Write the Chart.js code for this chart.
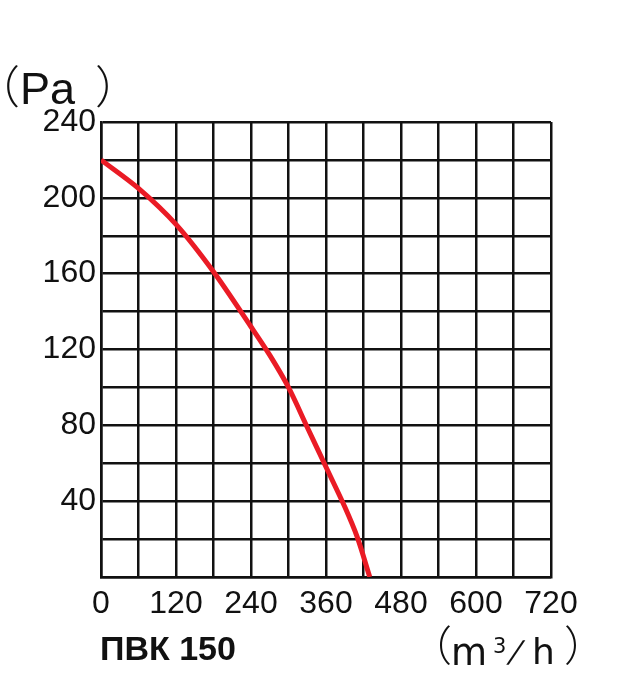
<!DOCTYPE html>
<html lang="ru">
<head>
<meta charset="UTF-8">
<title>ПВК 150</title>
<script src="https://cdn.jsdelivr.net/npm/chart.js"></script>
<style>
  body { margin: 0; background: #fff; }
  #wrap { position: relative; width: 640px; height: 683px; }
  canvas { position: absolute; left: 0; top: 0; }
  .lbl { position: absolute; line-height: 1; white-space: nowrap; color: #111;
         font-family: "Liberation Sans", Arial, sans-serif; }
  .cjk { font-family: "Noto Sans CJK SC", sans-serif; font-weight: 300; }
  .dv { font-family: "DejaVu Sans", sans-serif; }
</style>
</head>
<body>
<div id="wrap">
  <canvas id="fan" width="640" height="683"></canvas>
  <!-- единицы давления -->
  <div class="lbl" style="left:-25px; top:62px; font-size:45px;"><span class="cjk">（</span>Pa<span class="cjk" style="margin-left:20px">）</span></div>
  <!-- модель -->
  <div class="lbl" style="left:100px; top:631px; font-size:34px; font-weight:bold;">ПВК 150</div>
  <!-- единицы расхода -->
  <div class="lbl cjk" style="left:410px; top:622px; font-size:42px;">（</div>
  <div class="lbl dv" style="left:451px; top:634px; font-size:37px;">m</div>
  <div class="lbl dv" style="left:493px; top:636px; font-size:21px;">3</div>
  <div class="lbl dv" style="left:511px; top:637px; font-size:30px; transform:skewX(-20deg);">/</div>
  <div class="lbl dv" style="left:532px; top:634px; font-size:36px;">h</div>
  <div class="lbl cjk" style="left:564px; top:622px; font-size:42px;">）</div>
</div>
<script>
// расход, м3/ч
const flow = [0, 60, 120, 180, 240, 270, 300, 330, 360, 390, 410, 430];
// давление, Па
const pressure = [220, 205, 186, 161, 132, 117, 100, 79, 58, 37, 21, 0];

const xTicks = [0, 120, 240, 360, 480, 600, 720];
const yTicks = [40, 80, 120, 160, 200, 240];

const points = flow.map((q, i) => ({ x: q, y: pressure[i] }));

new Chart(document.getElementById("fan"), {
  type: "line",
  data: {
    datasets: [{
      data: points,
      borderColor: "#ea1b25",
      borderWidth: 5,
      pointRadius: 0,
      tension: 0.3,
      fill: false
    }]
  },
  options: {
    responsive: false,
    animation: false,
    layout: { padding: { top: 122, right: 89, left: 0, bottom: 0 } },
    plugins: { legend: { display: false }, tooltip: { enabled: false } },
    scales: {
      x: {
        type: "linear",
        min: 0, max: 720,
        border: { color: "#111", width: 2.5 },
        grid: { color: "#111", lineWidth: 2.5, drawTicks: false },
        ticks: {
          stepSize: 60,
          autoSkip: false,
          maxRotation: 0,
          padding: 8,
          color: "#111",
          font: { family: "Liberation Sans", size: 32 },
          callback: v => xTicks.includes(v) ? String(v) : ""
        },
        afterFit: s => { s.height = 106; }
      },
      y: {
        min: 0, max: 240,
        border: { color: "#111", width: 2.5 },
        grid: { color: "#111", lineWidth: 2.5, drawTicks: false },
        ticks: {
          stepSize: 20,
          autoSkip: false,
          padding: 5,
          color: "#111",
          font: { family: "Liberation Sans", size: 32 },
          callback: v => yTicks.includes(v) ? String(v) : ""
        },
        afterFit: s => { s.width = 101; }
      }
    }
  }
});
</script>
</body>
</html>
